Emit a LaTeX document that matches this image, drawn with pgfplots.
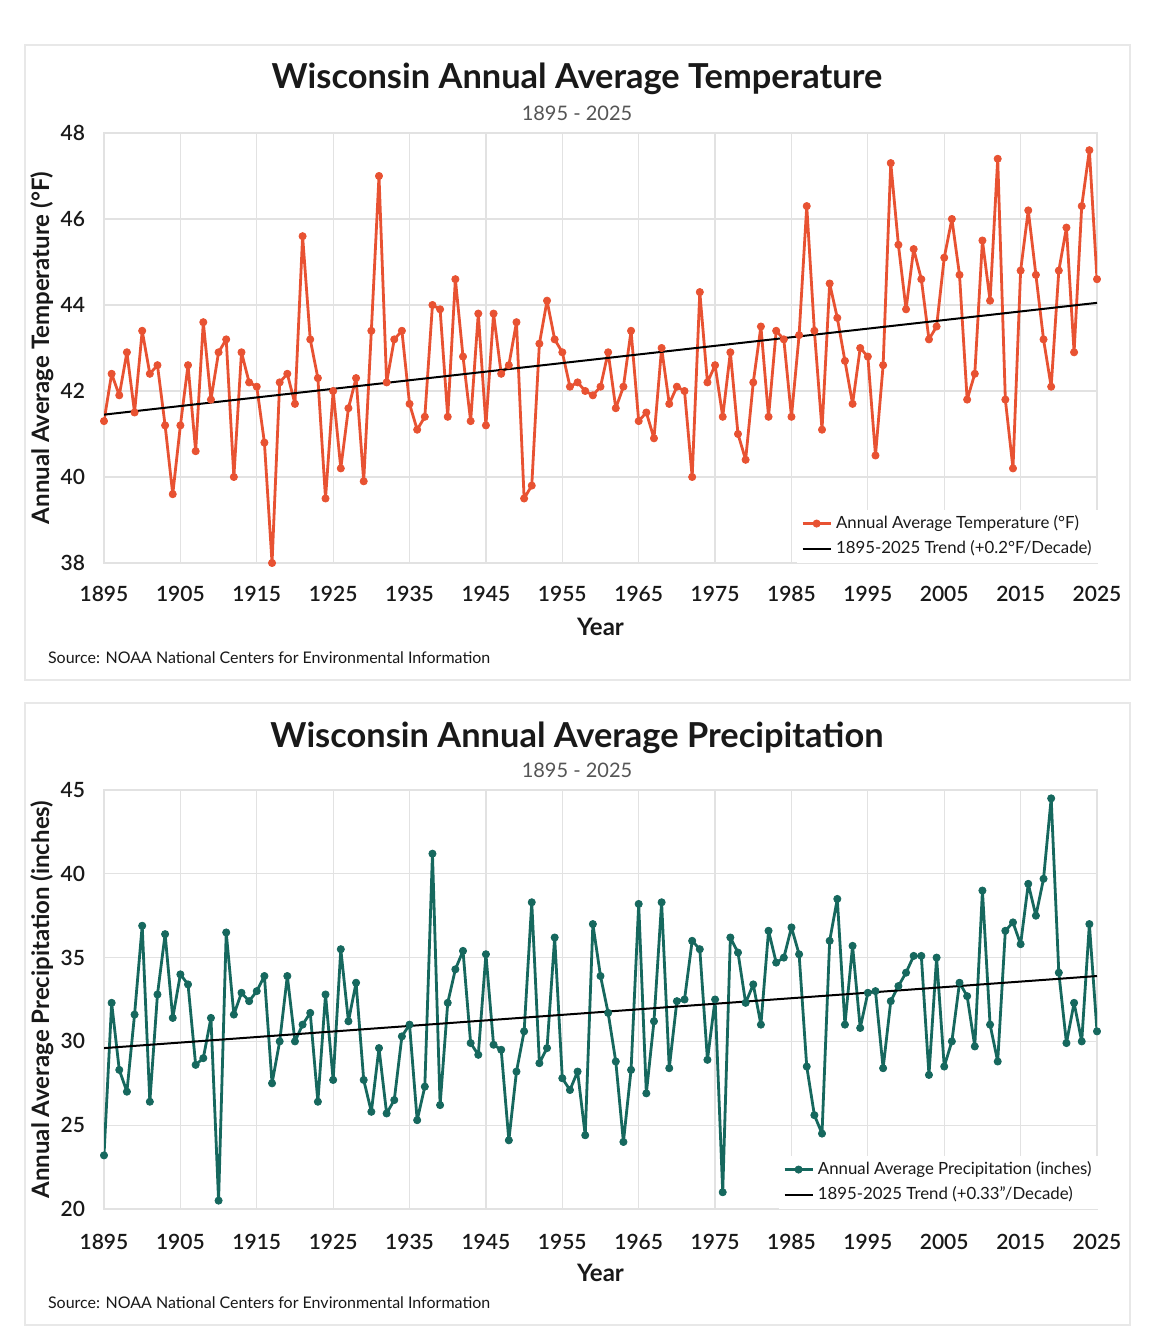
\documentclass[border=0pt]{standalone}
\usepackage{fontspec}
\setmainfont{Lato}
\newfontfamily\semib{Lato Semibold}
\usepackage{pgfplots}
\usepackage{pgfplotstable}
\pgfplotsset{compat=1.18}

\definecolor{tempc}{RGB}{232,82,50}
\definecolor{precc}{RGB}{22,104,94}
\definecolor{gridc}{RGB}{226,226,226}
\definecolor{panelc}{RGB}{232,232,232}
\definecolor{txt}{RGB}{25,25,25}
\definecolor{subc}{RGB}{85,85,85}

% Wisconsin annual average temperature (F)
\pgfplotstableread{
year t
1895 41.3
1896 42.4
1897 41.9
1898 42.9
1899 41.5
1900 43.4
1901 42.4
1902 42.6
1903 41.2
1904 39.6
1905 41.2
1906 42.6
1907 40.6
1908 43.6
1909 41.8
1910 42.9
1911 43.2
1912 40.0
1913 42.9
1914 42.2
1915 42.1
1916 40.8
1917 38.0
1918 42.2
1919 42.4
1920 41.7
1921 45.6
1922 43.2
1923 42.3
1924 39.5
1925 42.0
1926 40.2
1927 41.6
1928 42.3
1929 39.9
1930 43.4
1931 47.0
1932 42.2
1933 43.2
1934 43.4
1935 41.7
1936 41.1
1937 41.4
1938 44.0
1939 43.9
1940 41.4
1941 44.6
1942 42.8
1943 41.3
1944 43.8
1945 41.2
1946 43.8
1947 42.4
1948 42.6
1949 43.6
1950 39.5
1951 39.8
1952 43.1
1953 44.1
1954 43.2
1955 42.9
1956 42.1
1957 42.2
1958 42.0
1959 41.9
1960 42.1
1961 42.9
1962 41.6
1963 42.1
1964 43.4
1965 41.3
1966 41.5
1967 40.9
1968 43.0
1969 41.7
1970 42.1
1971 42.0
1972 40.0
1973 44.3
1974 42.2
1975 42.6
1976 41.4
1977 42.9
1978 41.0
1979 40.4
1980 42.2
1981 43.5
1982 41.4
1983 43.4
1984 43.2
1985 41.4
1986 43.3
1987 46.3
1988 43.4
1989 41.1
1990 44.5
1991 43.7
1992 42.7
1993 41.7
1994 43.0
1995 42.8
1996 40.5
1997 42.6
1998 47.3
1999 45.4
2000 43.9
2001 45.3
2002 44.6
2003 43.2
2004 43.5
2005 45.1
2006 46.0
2007 44.7
2008 41.8
2009 42.4
2010 45.5
2011 44.1
2012 47.4
2013 41.8
2014 40.2
2015 44.8
2016 46.2
2017 44.7
2018 43.2
2019 42.1
2020 44.8
2021 45.8
2022 42.9
2023 46.3
2024 47.6
2025 44.6
}\temp

% Wisconsin annual average precipitation (inches)
\pgfplotstableread{
year p
1895 23.2
1896 32.3
1897 28.3
1898 27.0
1899 31.6
1900 36.9
1901 26.4
1902 32.8
1903 36.4
1904 31.4
1905 34.0
1906 33.4
1907 28.6
1908 29.0
1909 31.4
1910 20.5
1911 36.5
1912 31.6
1913 32.9
1914 32.4
1915 33.0
1916 33.9
1917 27.5
1918 30.0
1919 33.9
1920 30.0
1921 31.0
1922 31.7
1923 26.4
1924 32.8
1925 27.7
1926 35.5
1927 31.2
1928 33.5
1929 27.7
1930 25.8
1931 29.6
1932 25.7
1933 26.5
1934 30.3
1935 31.0
1936 25.3
1937 27.3
1938 41.2
1939 26.2
1940 32.3
1941 34.3
1942 35.4
1943 29.9
1944 29.2
1945 35.2
1946 29.8
1947 29.5
1948 24.1
1949 28.2
1950 30.6
1951 38.3
1952 28.7
1953 29.6
1954 36.2
1955 27.8
1956 27.1
1957 28.2
1958 24.4
1959 37.0
1960 33.9
1961 31.7
1962 28.8
1963 24.0
1964 28.3
1965 38.2
1966 26.9
1967 31.2
1968 38.3
1969 28.4
1970 32.4
1971 32.5
1972 36.0
1973 35.5
1974 28.9
1975 32.5
1976 21.0
1977 36.2
1978 35.3
1979 32.3
1980 33.4
1981 31.0
1982 36.6
1983 34.7
1984 35.0
1985 36.8
1986 35.2
1987 28.5
1988 25.6
1989 24.5
1990 36.0
1991 38.5
1992 31.0
1993 35.7
1994 30.8
1995 32.9
1996 33.0
1997 28.4
1998 32.4
1999 33.3
2000 34.1
2001 35.1
2002 35.1
2003 28.0
2004 35.0
2005 28.5
2006 30.0
2007 33.5
2008 32.7
2009 29.7
2010 39.0
2011 31.0
2012 28.8
2013 36.6
2014 37.1
2015 35.8
2016 39.4
2017 37.5
2018 39.7
2019 44.5
2020 34.1
2021 29.9
2022 32.3
2023 30.0
2024 37.0
2025 30.6
}\prec

\pgfplotsset{
  panel/.style={
    scale only axis,
    width=496.5pt,
    xmin=1895, xmax=2025,
    xtick={1895,1905,...,2025},
    grid=major,
    major grid style={gridc, line width=0.6pt},
    axis line style={gridc, line width=0.6pt},
    tick style={draw=none},
    /pgf/number format/assume math mode=true,
    /pgf/number format/1000 sep={},
    ticklabel style={font=\semib\fontsize{10.5}{12}\selectfont, text=txt},
    yticklabel style={xshift=-6pt},
    label style={font=\bfseries\fontsize{12}{14}\selectfont, text=txt},
    xlabel=Year,
    legend cell align=left,
    legend image code/.code={%
      \draw[mark repeat=2, mark phase=2, #1]
        plot coordinates {(0pt,0pt) (7pt,0pt) (14pt,0pt)};},
    legend style={draw=none, fill=white, text=txt,
      font=\fontsize{8.4}{10}\selectfont,
      row sep=0.5pt, inner xsep=2pt, inner ysep=1pt,
      cells={anchor=west, inner xsep=1pt},
      at={(axis description cs:1.003,0.0)}, anchor=south east},
  },
  dataline/.style={line width=1.4pt, line join=round, mark=*, mark size=1.8pt,
    mark options={solid, line width=0.4pt}},
}

\begin{document}
\begin{tikzpicture}
\useasboundingbox (0,0) rectangle (579pt,672pt);
\fill[white] (0,0) rectangle (579pt,672pt);
\draw[panelc, line width=0.6pt] (12.5pt,332pt) rectangle (565pt,649.5pt);
\draw[panelc, line width=0.6pt] (12.5pt,9.5pt) rectangle (565pt,320.5pt);

% ---- temperature ----
\node[font=\bfseries\fontsize{17.2}{20}\selectfont, text=txt] at (288.5pt,632.5pt) {Wisconsin Annual Average Temperature};
\node[font=\fontsize{10}{12}\selectfont, text=subc] at (288.5pt,615.5pt) {1895 - 2025};
\node[anchor=west, font=\fontsize{8}{10}\selectfont, text=txt] at (20.5pt,343pt) {Source: NOAA National Centers for Environmental Information};

\begin{axis}[panel,
    at={(52pt,390.5pt)}, anchor=south west,
    height=215pt,
    ymin=38, ymax=48, ytick={38,40,...,48},
    xticklabel style={yshift=-8pt},
    ylabel={Annual Average Temperature (°F)},
    xlabel style={at={(axis description cs:0.5,-0.149)}, anchor=center},
    ylabel style={at={(axis description cs:-0.0625,0.5)}, anchor=center, rotate=0},
  ]
  \addplot[tempc, dataline] table[x=year, y=t] {\temp};
  \addlegendentry{Annual Average Temperature (°F)}
  \addplot[black, line width=1pt] coordinates {(1895,41.45) (2025,44.05)};
  \addlegendentry{1895-2025 Trend (+0.2°F/Decade)}
\end{axis}

% ---- precipitation ----
\node[font=\bfseries\fontsize{17.2}{20}\selectfont, text=txt] at (288.5pt,303pt) {Wisconsin Annual Average Precipitation};
\node[font=\fontsize{10}{12}\selectfont, text=subc] at (288.5pt,287pt) {1895 - 2025};
\node[anchor=west, font=\fontsize{8}{10}\selectfont, text=txt] at (20.5pt,20.5pt) {Source: NOAA National Centers for Environmental Information};

\begin{axis}[panel,
    at={(52pt,67.5pt)}, anchor=south west,
    height=209.5pt,
    ymin=20, ymax=45, ytick={20,25,...,45},
    xticklabel style={yshift=-9pt},
    ylabel={Annual Average Precipitation (inches)},
    xlabel style={at={(axis description cs:0.5,-0.153)}, anchor=center},
    ylabel style={at={(axis description cs:-0.0625,0.5)}, anchor=center, rotate=0},
  ]
  \addplot[precc, dataline] table[x=year, y=p] {\prec};
  \addlegendentry{Annual Average Precipitation (inches)}
  \addplot[black, line width=1pt] coordinates {(1895,29.6) (2025,33.9)};
  \addlegendentry{1895-2025 Trend (+0.33"/Decade)}
\end{axis}
\end{tikzpicture}
\end{document}
